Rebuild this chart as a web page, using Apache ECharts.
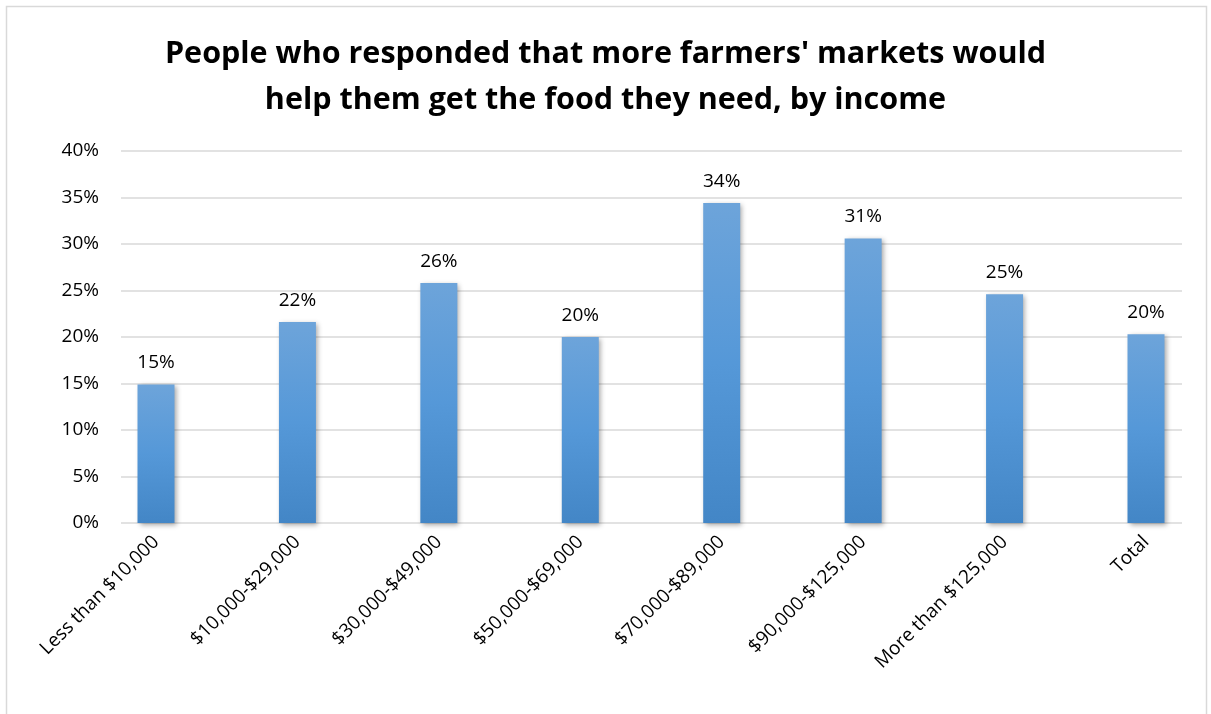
<!DOCTYPE html>
<html>
<head>
<meta charset="utf-8">
<script src="https://cdn.jsdelivr.net/npm/echarts@6/dist/echarts.min.js"></script>
<style>html,body{margin:0;padding:0;background:#fff}#c{width:1211px;height:714px}</style>
</head>
<body>
<div id="c"></div>
<script>
const titleText = "People who responded that more farmers' markets would\nhelp them get the food they need, by income";
const categories = ["Less than $10,000", "$10,000-$29,000", "$30,000-$49,000", "$50,000-$69,000", "$70,000-$89,000", "$90,000-$125,000", "More than $125,000", "Total"];
const values = [14.9, 21.6, 25.8, 20.0, 34.4, 30.6, 24.6, 20.3];
const yTicks = [0, 5, 10, 15, 20, 25, 30, 35, 40];

const FONT = "'Open Sans', 'Noto Sans', sans-serif";
const chart = echarts.init(document.getElementById('c'), null, {renderer: 'canvas'});
const gridTop = 151, gridBottom = 191;
chart.setOption({
  backgroundColor: '#ffffff',
  animation: false,
  title: {
    text: titleText,
    left: 'center',
    top: 26,
    textStyle: {fontFamily: FONT, fontWeight: 'bold', fontSize: 30.5, color: '#000', lineHeight: 46},
  },
  graphic: [{
    type: 'rect', silent: true, z: -10,
    shape: {x: 6.5, y: 6.5, width: 1200, height: 720},
    style: {fill: 'none', stroke: '#d9d9d9', lineWidth: 1.5}
  }],
  grid: [
    {left: 121, right: 29, top: gridTop, bottom: gridBottom},
    {left: 156, right: 65, top: gridTop, bottom: gridBottom}
  ],
  xAxis: [
    {gridIndex: 0, type: 'category', data: categories, show: false},
    {gridIndex: 1, type: 'category', data: categories, boundaryGap: false,
     axisLine: {show: false}, axisTick: {show: false},
     axisLabel: {rotate: 45, interval: 0, margin: 16, fontFamily: FONT, fontSize: 19, color: '#000'}}
  ],
  yAxis: [
    {gridIndex: 0, type: 'value', min: yTicks[0], max: yTicks[yTicks.length - 1], interval: 5,
     axisLine: {show: false}, axisTick: {show: false},
     axisLabel: {margin: 22, fontFamily: FONT, fontSize: 19, color: '#000', formatter: v => v + '%'},
     splitLine: {lineStyle: {color: '#d9d9d9', width: 1.5}}},
    {gridIndex: 1, type: 'value', min: yTicks[0], max: yTicks[yTicks.length - 1], interval: 5, show: false, splitLine: {show: false}}
  ],
  series: [{
    type: 'bar',
    xAxisIndex: 1, yAxisIndex: 1,
    data: values,
    barWidth: 37,
    itemStyle: {
      color: new echarts.graphic.LinearGradient(0, 0, 0, 1, [
        {offset: 0, color: '#6da4da'},
        {offset: 0.5, color: '#5598d8'},
        {offset: 1, color: '#4386c6'}
      ]),
      shadowColor: 'rgba(0,0,0,0.35)', shadowBlur: 5, shadowOffsetX: 2, shadowOffsetY: 2
    },
    label: {
      show: true, position: 'top', distance: 12,
      fontFamily: FONT, fontSize: 19, color: '#000',
      formatter: p => Math.round(p.value) + '%'
    }
  }]
});
</script>
</body>
</html>
